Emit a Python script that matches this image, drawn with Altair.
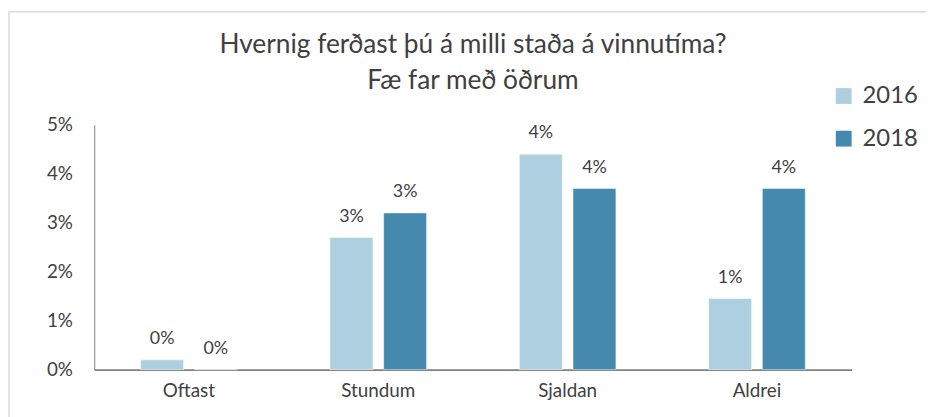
import altair as alt
import pandas as pd

categories = ["Oftast", "Stundum", "Sjaldan", "Aldrei"]
years = ["2016", "2018"]
values_2016 = [0.002, 0.027, 0.044, 0.0145]
values_2018 = [0.0, 0.032, 0.037, 0.037]
y_ticks = [0, 0.01, 0.02, 0.03, 0.04, 0.05]
colors = ["#AECFE0", "#4589AE"]

rows = []
for c, a, b in zip(categories, values_2016, values_2018):
    rows.append({"cat": c, "year": "2016", "val": a})
    rows.append({"cat": c, "year": "2018", "val": b})
df = pd.DataFrame(rows)

FONT = "Lato"
W, H = 764, 247

x_enc = alt.X("cat:N", sort=categories, title=None,
              scale=alt.Scale(paddingInner=0.49, paddingOuter=0.245),
              axis=alt.Axis(labelAngle=0, labelFontSize=19, labelColor="#404040",
                            labelFont=FONT, labelPadding=12, ticks=False,
                            domainColor="#808080", domainWidth=2))
xoff = alt.XOffset("year:N", sort=years, scale=alt.Scale(paddingInner=0.2, paddingOuter=0))
y_enc = alt.Y("val:Q", title=None,
              scale=alt.Scale(domain=[0, 0.05], nice=False),
              axis=alt.Axis(values=y_ticks, format=".0%", grid=False, ticks=False,
                            labelFontSize=19, labelColor="#404040", labelFont=FONT,
                            labelPadding=22, domainColor="#808080", domainWidth=1))

base = alt.Chart(df)
bars = base.mark_bar(stroke="white", strokeWidth=0.5).encode(
    x=x_enc, xOffset=xoff, y=y_enc,
    color=alt.Color("year:N", sort=years,
                    scale=alt.Scale(domain=years, range=colors),
                    legend=alt.Legend(title=None, orient="none", legendX=744, legendY=-41,
                                      symbolType="square", symbolSize=256,
                                      symbolStrokeWidth=0, labelFontSize=24,
                                      labelFont=FONT, labelColor="#404040",
                                      labelOffset=7, rowPadding=19, padding=0)),
)
labels = base.mark_text(baseline="alphabetic", dy=-16, fontSize=18, font=FONT,
                        color="#404040").encode(
    x=alt.X("cat:N", sort=categories), xOffset=alt.XOffset("year:N", sort=years),
    y="val:Q", text=alt.Text("val:Q", format=".0%"))

border_data = alt.Data(values=[{"k": 1}])
top_border = alt.Chart(border_data).mark_rule(color="#D9D9D9", strokeWidth=1.5).encode(
    x=alt.value(-86), x2=alt.value(W + 80), y=alt.value(-114))
left_border = alt.Chart(border_data).mark_rule(color="#D9D9D9", strokeWidth=1.5).encode(
    x=alt.value(-86), y=alt.value(-114), y2=alt.value(H + 60))

chart = alt.layer(top_border, left_border, bars, labels).properties(
    width=W, height=H,
    padding={"left": 87, "top": 116, "right": 75, "bottom": 46},
    autosize=alt.AutoSizeParams(type="none"),
    title=alt.TitleParams(["Hvernig ferðast þú á milli staða á vinnutíma?", "Fæ far með öðrum"],
                          fontSize=26.5, font=FONT, fontWeight="normal", color="#404040",
                          lineHeight=36, anchor="middle", offset=-84, frame="group"),
).configure_view(stroke=None)

chart.save("out.html", embed_options={"renderer": "svg", "actions": False})
